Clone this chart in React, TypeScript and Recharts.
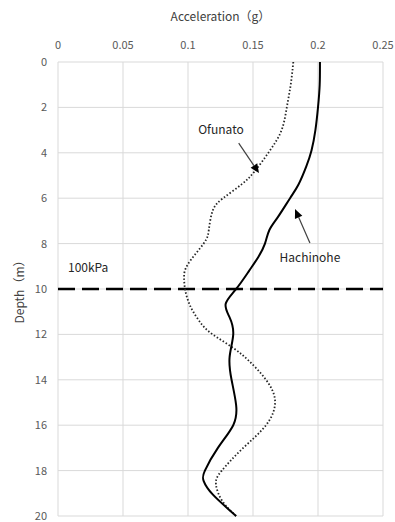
import {
  LineChart,
  Line,
  XAxis,
  YAxis,
  CartesianGrid,
  ReferenceLine,
  ReferenceDot,
} from 'recharts'

// depth (m) / acceleration (g)
const hachinoheDepth = [0, 1, 2, 3, 3.9, 4.6, 5.4, 6, 6.8, 7.4, 8, 8.6, 9.2, 10, 10.65, 11.25, 12, 13, 14, 15.1, 16, 17, 18, 18.45, 19.05, 20]
const hachinoheAcc = [0.2015, 0.2013, 0.2, 0.198, 0.195, 0.191, 0.185, 0.1785, 0.1695, 0.1626, 0.1592, 0.154, 0.147, 0.137, 0.129, 0.132, 0.1348, 0.132, 0.1335, 0.137, 0.1348, 0.123, 0.113, 0.112, 0.119, 0.137]

const ofunatoDepth = [0, 1, 2, 3, 3.9, 4.8, 5.4, 6, 6.55, 7.4, 8, 8.9, 9.5, 10, 10.5, 11, 11.55, 12, 12.6, 13.2, 14, 14.95, 16, 17, 18, 18.6, 19.35, 20]
const ofunatoAcc = [0.181, 0.179, 0.176, 0.172, 0.163, 0.1515, 0.141, 0.127, 0.119, 0.116, 0.112, 0.1, 0.097, 0.0977, 0.1, 0.104, 0.1105, 0.119, 0.1348, 0.1475, 0.16, 0.167, 0.16, 0.1425, 0.126, 0.1215, 0.1265, 0.137]

const accTicks = [0, 0.05, 0.1, 0.15, 0.2, 0.25]
const depthTicks = [0, 2, 4, 6, 8, 10, 12, 14, 16, 18, 20]

const LIMIT_DEPTH = 10
const LIMIT_LABEL = '100kPa'

// annotations: label + arrow (from -> to), in data units
const notes = [
  { text: 'Ofunato', at: { x: 0.1254, y: 2.95 }, from: { x: 0.139, y: 3.57 }, to: { x: 0.1546, y: 4.89 } },
  { text: 'Hachinohe', at: { x: 0.1938, y: 8.55 }, from: { x: 0.1938, y: 7.97 }, to: { x: 0.1823, y: 6.48 } },
]

const hachinohe = hachinoheDepth.map((d, i) => ({ depth: d, acc: hachinoheAcc[i] }))
const ofunato = ofunatoDepth.map((d, i) => ({ depth: d, acc: ofunatoAcc[i] }))

const FONT = '"Noto Sans CJK JP", "Noto Sans", sans-serif'

function Arrow(props: any) {
  const { x1, y1, x2, y2 } = props
  const ang = Math.atan2(y2 - y1, x2 - x1)
  const len = 9
  const w = 4
  const bx = x2 - len * Math.cos(ang)
  const by = y2 - len * Math.sin(ang)
  const px = -Math.sin(ang) * w
  const py = Math.cos(ang) * w
  return (
    <g>
      <line x1={x1} y1={y1} x2={bx} y2={by} stroke="#404040" strokeWidth={1.2} />
      <polygon points={`${x2},${y2} ${bx + px},${by + py} ${bx - px},${by - py}`} fill="#000" />
    </g>
  )
}

export default function App() {
  return (
    <div style={{ position: 'absolute', left: 0, top: 0, background: '#fff' }}>
      <LineChart
        width={395}
        height={522}
        layout="vertical"
        margin={{ top: 0, right: 12, bottom: 6, left: 0 }}
        style={{ fontFamily: FONT }}
      >
        <CartesianGrid stroke="#d9d9d9" strokeWidth={1} />
        <XAxis
          type="number"
          orientation="top"
          domain={[0, 0.25]}
          ticks={accTicks}
          height={62}
          axisLine={false}
          tickLine={false}
          tickMargin={7}
          tick={{ fill: '#595959', fontSize: 11 }}
          label={{
            content: ({ viewBox }: any) => (
              <text
                x={viewBox.x + viewBox.width / 2}
                y={viewBox.y + 15}
                textAnchor="middle"
                dominantBaseline="central"
                fill="#404040"
                fontSize={12}
              >
                Acceleration（g）
              </text>
            ),
          }}
        />
        <YAxis
          type="number"
          dataKey="depth"
          domain={[0, 20]}
          ticks={depthTicks}
          width={58}
          axisLine={false}
          tickLine={false}
          tickMargin={5}
          tick={{ fill: '#595959', fontSize: 11 }}
          label={{
            content: ({ viewBox }: any) => {
              const cx = viewBox.x + 18
              const cy = viewBox.y + viewBox.height / 2
              return (
                <text
                  x={cx}
                  y={cy}
                  transform={`rotate(-90 ${cx} ${cy})`}
                  textAnchor="middle"
                  dominantBaseline="central"
                  fill="#404040"
                  fontSize={12}
                >
                  Depth（m）
                </text>
              )
            },
          }}
        />
        <ReferenceLine
          y={LIMIT_DEPTH}
          stroke="#000"
          strokeWidth={2.5}
          strokeDasharray="17 7"
          label={{
            content: ({ viewBox }: any) => (
              <text x={viewBox.x + 10} y={viewBox.y - 17} fill="#262626" fontSize={12}>
                {LIMIT_LABEL}
              </text>
            ),
          }}
        />
        <Line
          data={ofunato}
          dataKey="acc"
          type="natural"
          stroke="#262626"
          strokeWidth={1.8}
          strokeDasharray="1.5 2"
          dot={false}
          isAnimationActive={false}
        />
        <Line
          data={hachinohe}
          dataKey="acc"
          type="natural"
          stroke="#000"
          strokeWidth={2}
          dot={false}
          isAnimationActive={false}
        />
        {notes.map((n) => (
          <ReferenceLine key={n.text + '-arrow'} segment={[n.from, n.to]} shape={Arrow} />
        ))}
        {notes.map((n) => (
          <ReferenceDot
            key={n.text}
            x={n.at.x}
            y={n.at.y}
            shape={(p: any) => (
              <text x={p.cx} y={p.cy} textAnchor="middle" dominantBaseline="central" fill="#262626" fontSize={12}>
                {n.text}
              </text>
            )}
          />
        ))}
      </LineChart>
    </div>
  )
}
